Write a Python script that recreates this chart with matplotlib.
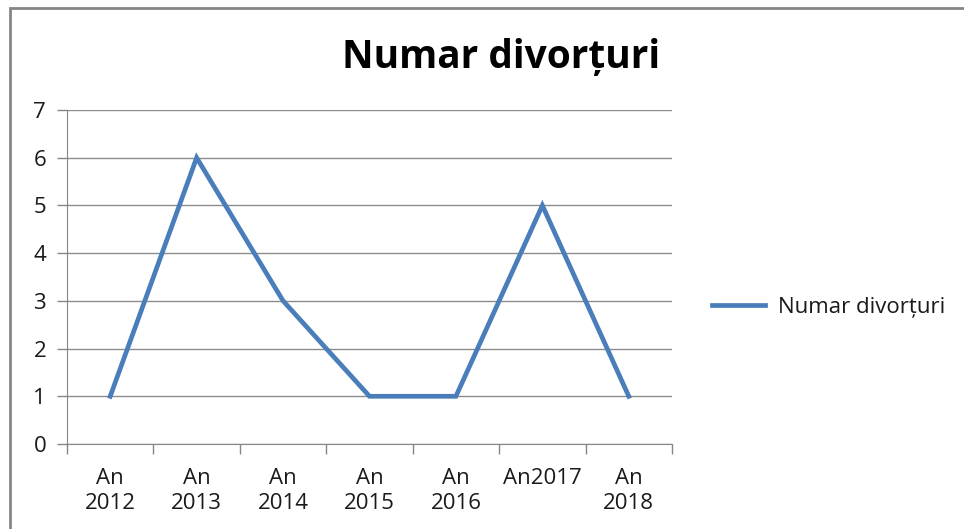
import matplotlib
matplotlib.use("Agg")
import matplotlib.pyplot as plt
from matplotlib.patches import Rectangle

# date
ani = ["An\n2012", "An\n2013", "An\n2014", "An\n2015", "An\n2016", "An2017", "An\n2018"]
divorturi = [1, 6, 3, 1, 1, 5, 1]
titlu = "Numar divorțuri"

plt.rcParams['font.family'] = ['Open Sans', 'DejaVu Sans']

W, H = 964, 529
fig = plt.figure(figsize=(W / 100, H / 100), dpi=100)

def fx(px):
    return px / W

def fy(py):
    return 1 - py / H

# rama graficului (taiata la dreapta si jos)
fig.patches.append(Rectangle((fx(10), fy(600)), fx(1100), fy(8) - fy(600),
                             transform=fig.transFigure, fill=False,
                             edgecolor="#868686", linewidth=2))

ax = fig.add_axes([fx(67), fy(444), fx(672) - fx(67), fy(110) - fy(444)])
x = list(range(len(ani)))
ax.plot(x, divorturi, color="#4A7EBB", linewidth=3.4, solid_joinstyle="miter",
        label=titlu, zorder=3)

ax.set_xlim(-0.5, len(ani) - 0.5)
ax.set_ylim(0, 7)
ax.set_yticks(range(0, 8))
ax.yaxis.grid(True, color="#8c8c8c", linewidth=1)
ax.set_axisbelow(True)

ax.set_xticks([i - 0.5 for i in range(len(ani) + 1)])
ax.set_xticklabels([])
ax.set_xticks(x, minor=True)
ax.set_xticklabels(ani, minor=True, fontsize=16, linespacing=1.3, color="#1a1a1a")
ax.tick_params(axis="x", which="minor", length=0, pad=17)
ax.tick_params(axis="x", which="major", length=7, color="#868686", width=1)
ax.tick_params(axis="y", length=7, color="#868686", width=1, labelsize=16, pad=8,
               labelcolor="#1a1a1a")

for s in ["top", "right"]:
    ax.spines[s].set_visible(False)
ax.spines["left"].set_color("#868686")
ax.spines["bottom"].set_color("#868686")

fig.text(fx(501), fy(57), titlu, fontsize=28, fontweight="bold", ha="center", va="center")

fig.legend(loc="center left", bbox_to_anchor=(fx(692), fy(307)), frameon=False,
           fontsize=16, handlelength=2.4, handletextpad=0.55, labelcolor="#1a1a1a")

fig.savefig("out.png", dpi=100)
